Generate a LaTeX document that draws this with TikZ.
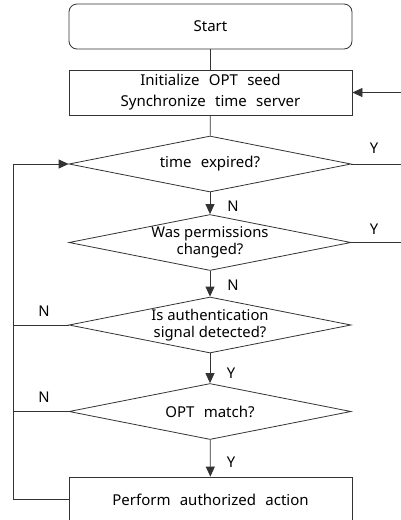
\documentclass[tikz,border=0pt]{standalone}
\usepackage{fontspec}
\setmainfont{Noto Sans}
\usetikzlibrary{shapes.geometric,arrows.meta}
\newcommand{\widewords}{\spaceskip=0.62em\relax}

\begin{document}
\begin{tikzpicture}[x=1pt, y=-1pt,
        box/.style={draw=black!80, line width=0.8pt, minimum width=283pt, minimum height=45pt, inner sep=0pt, align=center},
        decision/.style={draw=black!80, line width=0.8pt, diamond, aspect=5, minimum width=282pt, minimum height=56pt, inner sep=0pt, align=center},
        wide/.style={font=\fontsize{15}{21}\selectfont, execute at begin node=\widewords},
        arr/.style={draw=black!80, line width=0.8pt, -{Triangle[length=10pt,width=9pt]}},
        line/.style={draw=black!80, line width=0.8pt},
        font=\fontsize{14.8}{17.5}\selectfont]
        \useasboundingbox (0,0) rectangle (401,520);
        \node [box, wide, rounded corners=8pt] (start) at (210.5,26.5) {Start};
        \node [box, wide] (init) at (210.5,92.5) {Initialize OPT seed\\Synchronize time server};
        \node [decision, wide] (expired) at (210,164) {time expired?};
        \node [decision] (perm) at (210,242.5) {Was permissions\\changed?};
        \node [decision] (auth) at (210,325) {Is authentication\\signal detected?};
        \node [decision, wide] (match) at (210,411.5) {OPT match?};
        \node [box, wide] (action) at (210.5,499.5) {Perform authorized action};
        \coordinate (rin) at (410,92.5);
        \coordinate (rout1) at (410,164);
        \coordinate (rout2) at (410,242.5);
        \coordinate (loop) at (13,164);
        \draw [line] (start) -- (init);
        \draw [line] (init) -- (expired);
        \draw [arr] (expired) -- (perm);
        \draw [arr] (perm) -- (auth);
        \draw [arr] (auth) -- (match);
        \draw [arr] (match) -- (action);
        \draw [arr] (rin) -- (init.east);
        \draw [line] (expired.east) -- (rout1);
        \draw [line] (perm.east) -- (rout2);
        \draw [arr] (action.west) -| (loop) -- (expired.west);
        \draw [line] (auth.west) -- (auth.west -| loop);
        \draw [line] (match.west) -- (match.west -| loop);
        \node (y1) at (374,148) {Y};
        \node (y2) at (374,229) {Y};
        \node (n1) at (233,206) {N};
        \node (n2) at (233,285) {N};
        \node (n3) at (44,311) {N};
        \node (y3) at (231,373) {Y};
        \node (n4) at (44,397) {N};
        \node (y4) at (231,462) {Y};
    \end{tikzpicture}
\end{document}
